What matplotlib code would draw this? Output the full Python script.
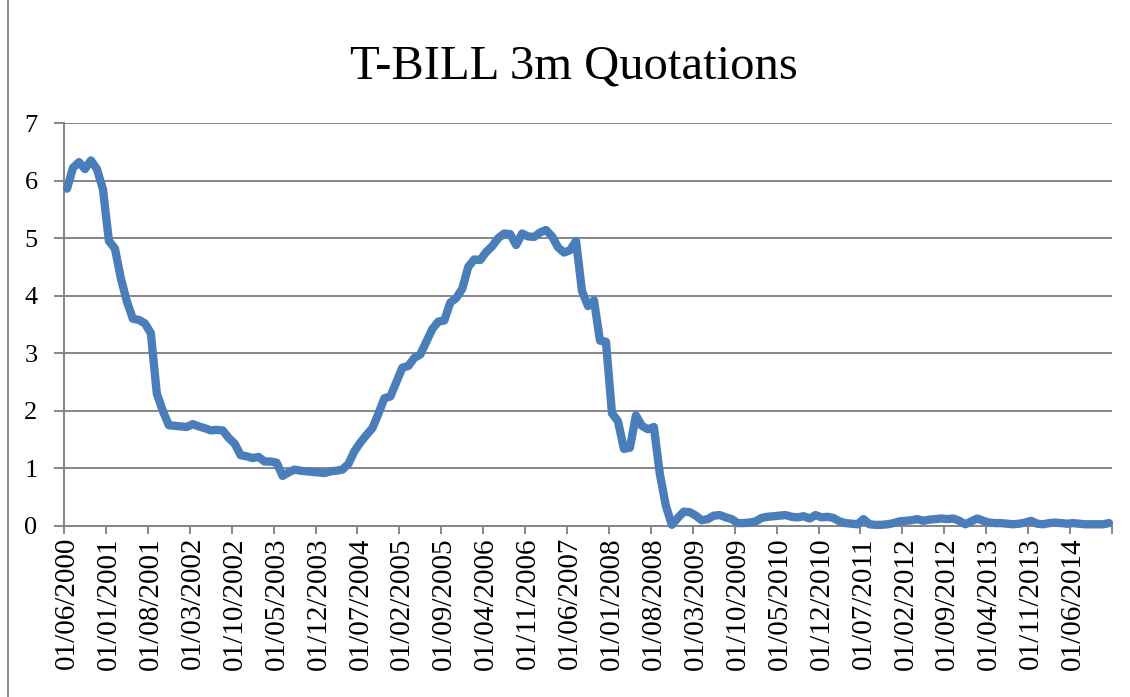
import matplotlib
matplotlib.use("Agg")
import matplotlib.pyplot as plt
from matplotlib.lines import Line2D

title = "T-BILL 3m Quotations"

# monthly quotations, 01/06/2000 .. 01/12/2014
rates = [
    5.86, 6.22, 6.32, 6.20, 6.35, 6.20, 5.85, 4.95, 4.82, 4.30,
    3.90, 3.60, 3.58, 3.52, 3.35, 2.30, 2.00, 1.75, 1.74, 1.73,
    1.72, 1.77, 1.73, 1.70, 1.66, 1.67, 1.66, 1.53, 1.43, 1.23,
    1.21, 1.18, 1.20, 1.12, 1.12, 1.10, 0.87, 0.93, 0.98, 0.96,
    0.95, 0.94, 0.93, 0.92, 0.95, 0.96, 0.98, 1.08, 1.30, 1.45,
    1.58, 1.70, 1.95, 2.22, 2.25, 2.50, 2.75, 2.78, 2.92, 2.98,
    3.20, 3.42, 3.55, 3.57, 3.88, 3.96, 4.12, 4.50, 4.63, 4.62,
    4.76, 4.86, 5.00, 5.08, 5.07, 4.88, 5.08, 5.03, 5.02, 5.10,
    5.14, 5.03, 4.84, 4.75, 4.79, 4.95, 4.08, 3.82, 3.92, 3.22,
    3.20, 1.96, 1.82, 1.34, 1.36, 1.92, 1.74, 1.68, 1.72, 0.90,
    0.35, 0.02, 0.14, 0.25, 0.24, 0.18, 0.10, 0.12, 0.18, 0.19,
    0.15, 0.12, 0.05, 0.05, 0.06, 0.08, 0.14, 0.16, 0.17, 0.18,
    0.19, 0.16, 0.15, 0.17, 0.13, 0.19, 0.15, 0.16, 0.14, 0.08,
    0.05, 0.04, 0.03, 0.12, 0.03, 0.02, 0.02, 0.03, 0.05, 0.08,
    0.09, 0.10, 0.12, 0.09, 0.11, 0.12, 0.13, 0.12, 0.13, 0.09,
    0.03, 0.08, 0.13, 0.09, 0.06, 0.05, 0.05, 0.04, 0.03, 0.04,
    0.06, 0.09, 0.04, 0.03, 0.05, 0.06, 0.05, 0.04, 0.05, 0.04,
    0.03, 0.03, 0.03, 0.03, 0.05,
]

date_labels = [
    "01/06/2000", "01/01/2001", "01/08/2001", "01/03/2002", "01/10/2002",
    "01/05/2003", "01/12/2003", "01/07/2004", "01/02/2005", "01/09/2005",
    "01/04/2006", "01/11/2006", "01/06/2007", "01/01/2008", "01/08/2008",
    "01/03/2009", "01/10/2009", "01/05/2010", "01/12/2010", "01/07/2011",
    "01/02/2012", "01/09/2012", "01/04/2013", "01/11/2013", "01/06/2014",
]
label_step = 7
y_ticks = [0, 1, 2, 3, 4, 5, 6, 7]

W, H = 1130, 697
fig = plt.figure(figsize=(W / 100, H / 100), dpi=100)
ax = fig.add_axes([64 / W, 1 - 526 / H, (1112 - 64) / W, (526 - 123) / H])

n = len(rates)
x = list(range(n))
ax.plot(x, rates, color="#4A7EBB", lw=6.0, solid_joinstyle="round",
        solid_capstyle="round", zorder=3, clip_on=False)

grid_c = "#868686"
ax.set_xlim(-0.5, n - 0.5)
ax.set_ylim(0, 7)
ax.set_yticks(y_ticks)
ax.set_yticklabels([str(t) for t in y_ticks], family="Liberation Serif", fontsize=19)
ax.yaxis.grid(True, color=grid_c, lw=1.4)
ax.set_axisbelow(True)

major = [-0.5 + label_step * k for k in range(len(date_labels) + 1)]
ax.set_xticks(major)
ax.set_xticklabels([])
minor = [label_step * k for k in range(len(date_labels))]
ax.set_xticks(minor, minor=True)
ax.set_xticklabels(date_labels, minor=True, rotation=90, family="Liberation Serif",
                   fontsize=21, va="top", ha="center")
ax.tick_params(axis="x", which="major", length=6, width=1.4, color=grid_c, direction="out")
ax.tick_params(axis="x", which="minor", length=0, pad=8)
ax.tick_params(axis="y", length=7, width=1.4, color=grid_c, pad=12, labelcolor="black")

for s in ["top", "right"]:
    ax.spines[s].set_visible(False)
for s in ["left", "bottom"]:
    ax.spines[s].set_color(grid_c)
    ax.spines[s].set_linewidth(1.4)

fig.text(574 / W, 1 - 66 / H, title, ha="center", va="center",
         family="Liberation Serif", fontsize=35)

fig.add_artist(Line2D([8 / W, 8 / W], [0, 1], transform=fig.transFigure,
                      color="#898989", lw=1.4))

fig.savefig("out.png", dpi=100, facecolor="white")
